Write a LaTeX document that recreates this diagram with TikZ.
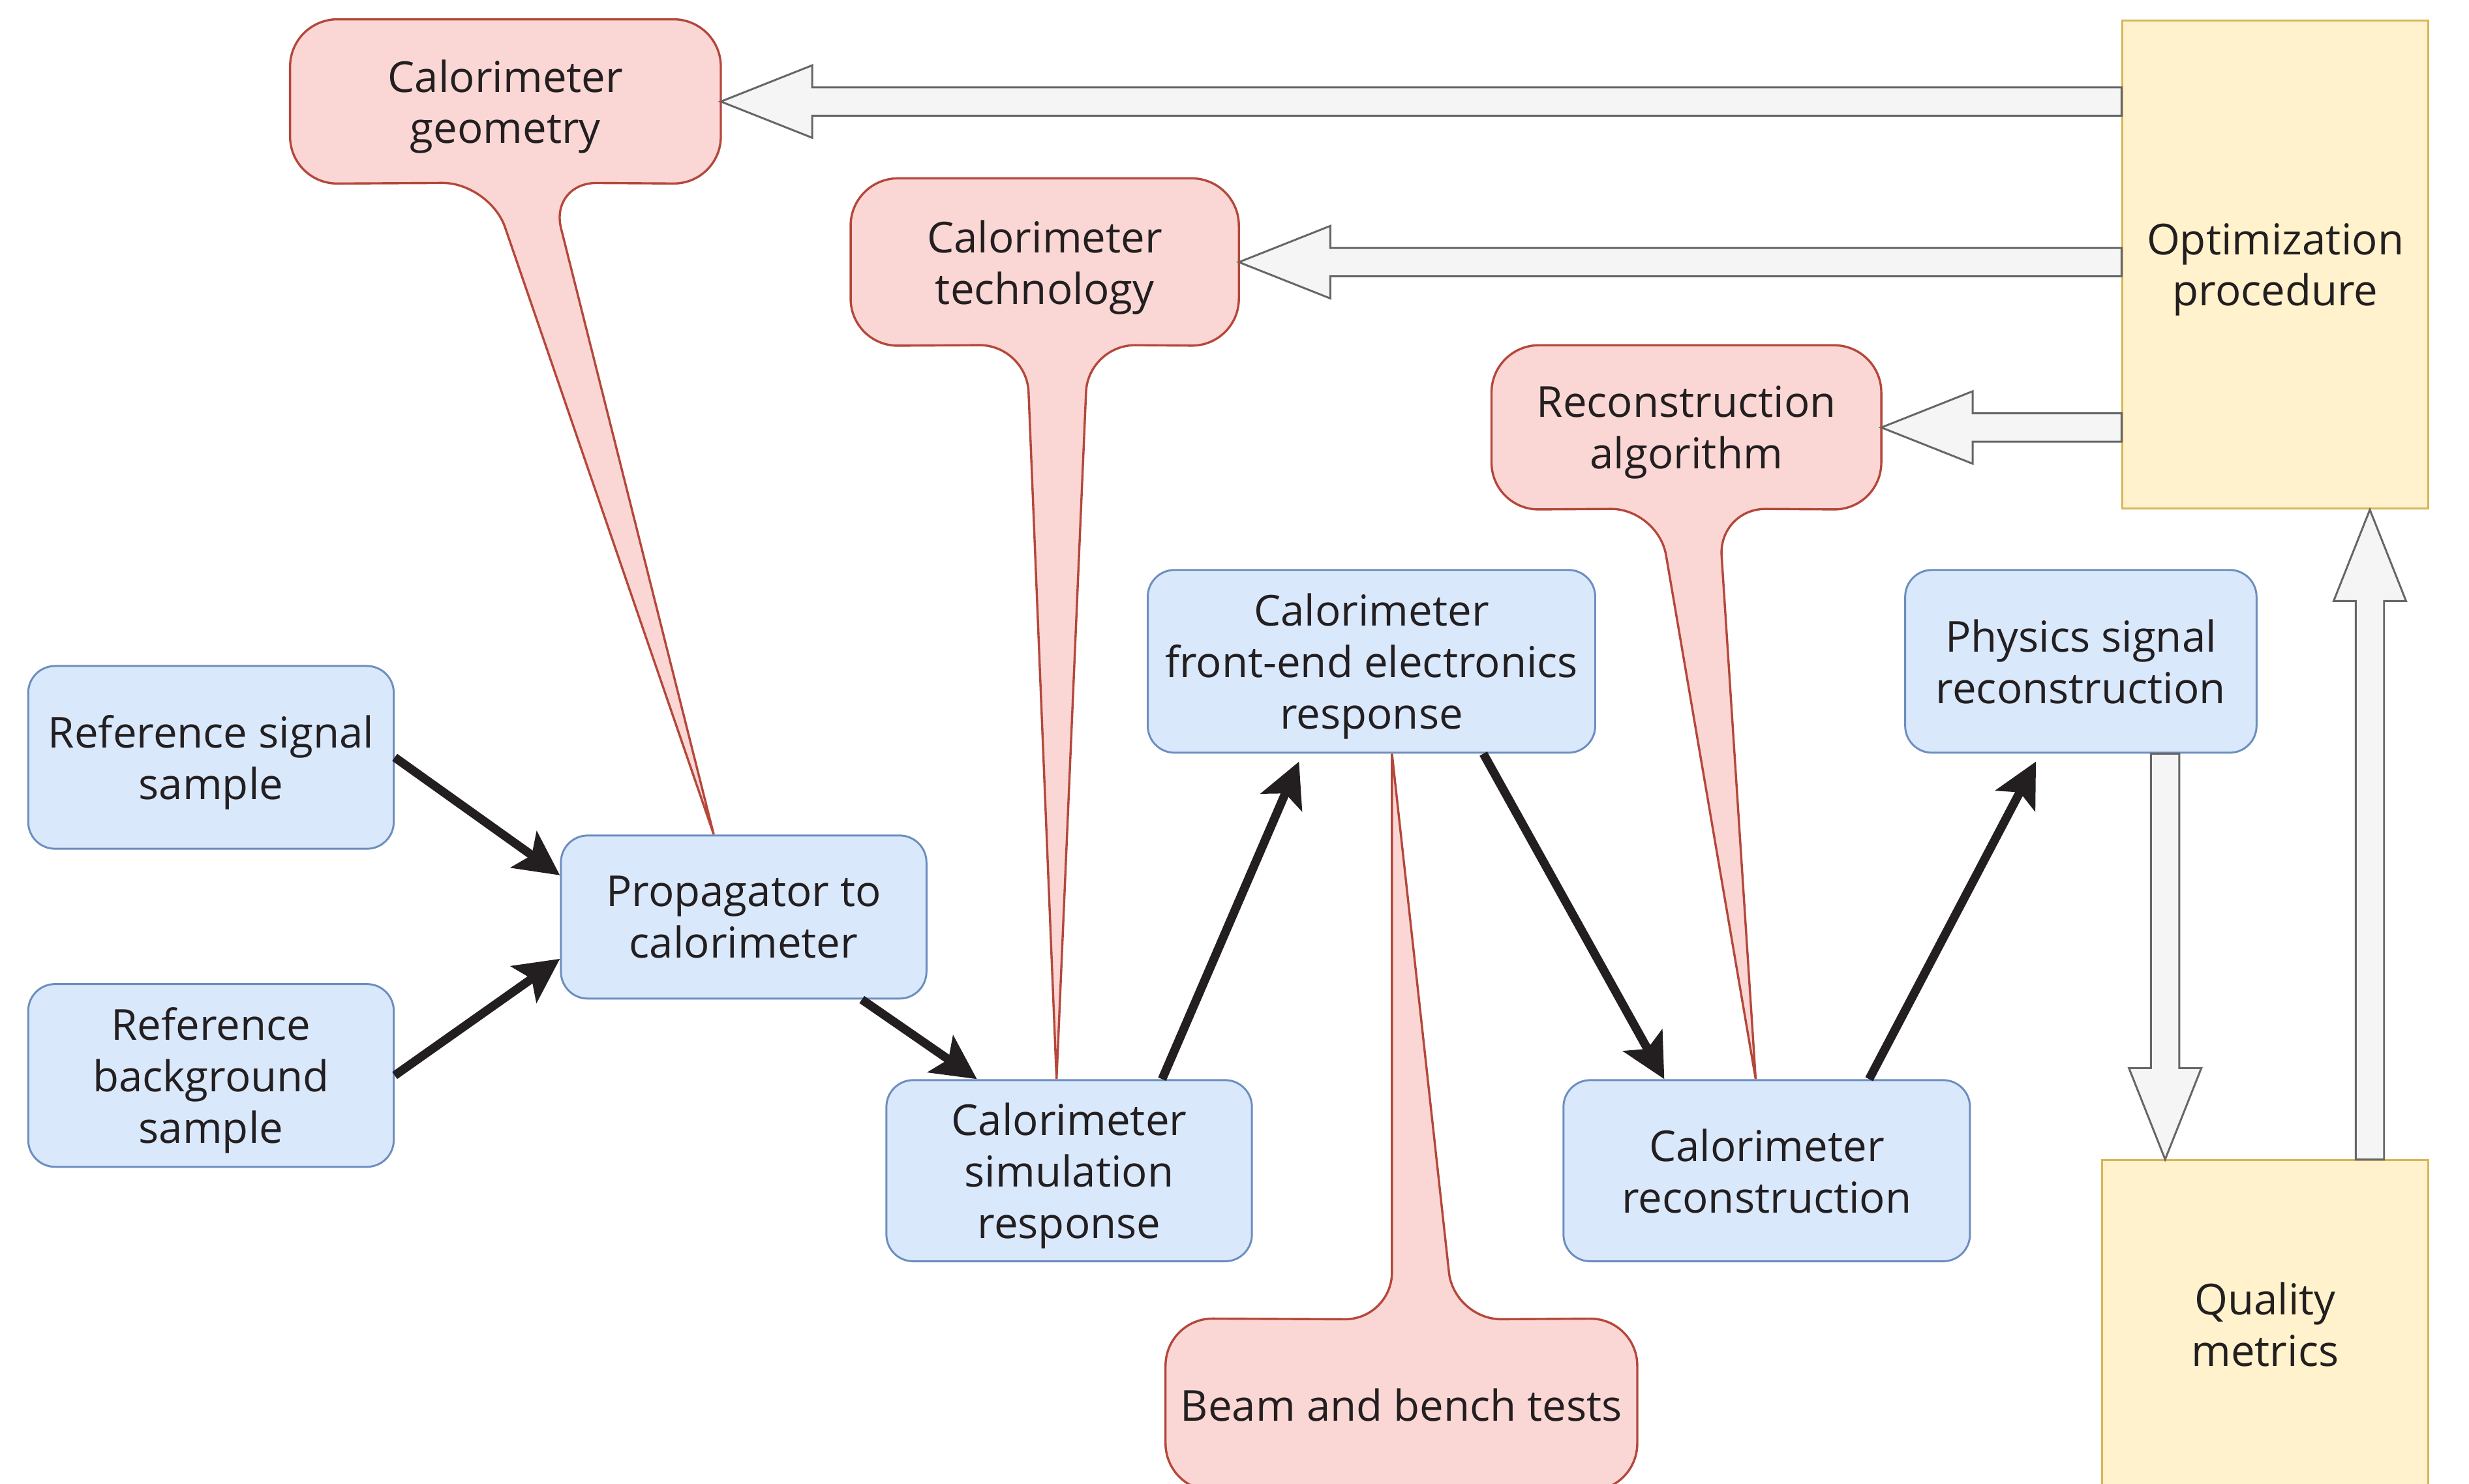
\documentclass[tikz,border=0pt]{standalone}
\usepackage{fontspec}
\setmainfont{Open Sans}
\usetikzlibrary{calc,arrows.meta,backgrounds}

\definecolor{bluefill}{HTML}{DAE8FC}
\definecolor{blueline}{HTML}{6C8EBF}
\definecolor{redfill}{HTML}{FAD7D4}
\definecolor{redline}{HTML}{B5473B}
\definecolor{yellowfill}{HTML}{FFF2CC}
\definecolor{yellowline}{HTML}{D6B656}
\definecolor{grayfill}{HTML}{F5F5F5}
\definecolor{grayline}{HTML}{666666}
\definecolor{ink}{HTML}{231F20}

% hollow block arrow from #1 to #2
\newcommand{\fatarrow}[2]{
	\draw[fat] ($(#1)!0.09cm!90:(#2)$)
	-- ($(#2)!0.58cm!(#1)!0.09cm!90:(#2)$)
	-- ($(#2)!0.58cm!(#1)!0.23cm!90:(#2)$)
	-- (#2)
	-- ($(#2)!0.58cm!(#1)!0.23cm!-90:(#2)$)
	-- ($(#2)!0.58cm!(#1)!0.09cm!-90:(#2)$)
	-- ($(#1)!0.09cm!-90:(#2)$)
	-- cycle;
}

\begin{document}
\begin{tikzpicture}[x=0.01cm,y=-0.01cm]
	\tikzset{
		txt/.style={align=center, text=ink, inner sep=0pt, text depth=0pt, font=\fontsize{7.7}{9.3}\selectfont},
		box/.style={txt, draw=blueline, fill=bluefill, line width=0.35pt, rounded corners=0.17cm},
		optbox/.style={txt, draw=yellowline, fill=yellowfill, line width=0.35pt},
		callout/.style={draw=redline, fill=redfill, line width=0.4pt, rounded corners=0.3cm},
		flow/.style={-{Stealth[length=0.28cm, width=0.28cm, inset=0.06cm]}, draw=ink, line width=0.055cm},
		fat/.style={draw=grayline, fill=grayfill, line width=0.35pt},
	}
	\useasboundingbox (0,0) rectangle (1568,942.4);
	
	\node[box, minimum width=2.32cm, minimum height=1.16cm] (sig) at (134,481) {Reference signal\\sample};
	\node[box, minimum width=2.32cm, minimum height=1.16cm] (bkg) at (134,683) {Reference\\background\\sample};
	\node[box, minimum width=2.32cm, minimum height=1.035cm] (prop) at (472.3,582.4) {Propagator to\\calorimeter};
	\node[box, minimum width=2.32cm, minimum height=1.15cm] (sim) at (679,743.5) {Calorimeter\\simulation\\response};
	\node[box, minimum width=2.84cm, minimum height=1.16cm] (front) at (871,420) {Calorimeter\\front-end electronics\\response};
	\node[box, minimum width=2.58cm, minimum height=1.15cm] (reco) at (1122,743.5) {Calorimeter\\reconstruction};
	\node[box, minimum width=2.23cm, minimum height=1.16cm] (phys) at (1321.5,420) {Physics signal\\reconstruction};
	
	\node[optbox, minimum width=1.94cm, minimum height=3.1cm] (opt) at (1445,168) {Optimization\\procedure};
	\node[optbox, minimum width=2.07cm, minimum height=2.08cm] (qual) at (1438.5,841) {Quality\\metrics};
	
	\node[txt, minimum width=2.72cm, minimum height=1.03cm] (geom) at (321,64.5) {Calorimeter\\geometry};
	\node[txt, minimum width=2.45cm, minimum height=1.05cm] (tech) at (663.5,166.5) {Calorimeter\\technology};
	\node[txt, minimum width=2.46cm, minimum height=1.03cm] (algo) at (1071,271.5) {Reconstruction\\algorithm};
	\node[txt, minimum width=2.98cm, minimum height=1.08cm] (beam) at (890,892) {Beam and bench tests};
	
	\coordinate (geomtip) at ([xshift=-0.19cm]prop.north);
	\coordinate (techtip) at ([xshift=-0.08cm]sim.north);
	\coordinate (algotip) at ([xshift=-0.07cm]reco.north);
	\coordinate (beamtip) at ([xshift=0.13cm]front.south);
	
	\begin{scope}[on background layer]
		\draw[callout] (geom.north) -- (geom.north east) -- (geom.south east) -- (349,116)
		[sharp corners] -- (geomtip) [rounded corners=0.3cm] -- (311,116) -- (geom.south west) -- (geom.north west) -- cycle;
		\draw[callout] (tech.north) -- (tech.north east) -- (tech.south east) -- (691,219)
		[sharp corners] -- (techtip) [rounded corners=0.3cm] -- (652,219) -- (tech.south west) -- (tech.north west) -- cycle;
		\draw[callout] (algo.north) -- (algo.north east) -- (algo.south east) -- (1091.4,323)
		[sharp corners] -- (algotip) [rounded corners=0.3cm] -- (1053,323) -- (algo.south west) -- (algo.north west) -- cycle;
		\draw[callout] (beam.south) -- (beam.south west) -- (beam.north west) -- (884,838)
		[sharp corners] -- (beamtip) [rounded corners=0.3cm] -- (923.5,838) -- (beam.north east) -- (beam.south east) -- cycle;
	\end{scope}
	
	\draw[flow] (sig.east) -- ([yshift=0.265cm]prop.west);
	\draw[flow] (bkg.east) -- ([yshift=-0.265cm]prop.west);
	\draw[flow] ([xshift=0.75cm]prop.south) -- ([xshift=-0.585cm]sim.north);
	\draw[flow] ([xshift=0.59cm]sim.north) -- ([xshift=-0.46cm,yshift=-0.05cm]front.south);
	\draw[flow] ([xshift=0.71cm]front.south) -- ([xshift=-0.65cm]reco.north);
	\draw[flow] ([xshift=0.65cm]reco.north) -- ([xshift=-0.285cm,yshift=-0.05cm]phys.south);
	
	\coordinate (g1) at (opt.west |- geom.east);
	\coordinate (t1) at (opt.west |- tech.east);
	\coordinate (a1) at (opt.west |- algo.east);
	\coordinate (d1) at ([xshift=0.535cm]phys.south);
	\coordinate (d2) at (d1 |- qual.north);
	\coordinate (u1) at ([xshift=0.665cm]qual.north);
	\coordinate (u2) at (u1 |- opt.south);
	\fatarrow{g1}{geom.east}
	\fatarrow{t1}{tech.east}
	\fatarrow{a1}{algo.east}
	\fatarrow{d1}{d2}
	\fatarrow{u1}{u2}
\end{tikzpicture}
\end{document}
